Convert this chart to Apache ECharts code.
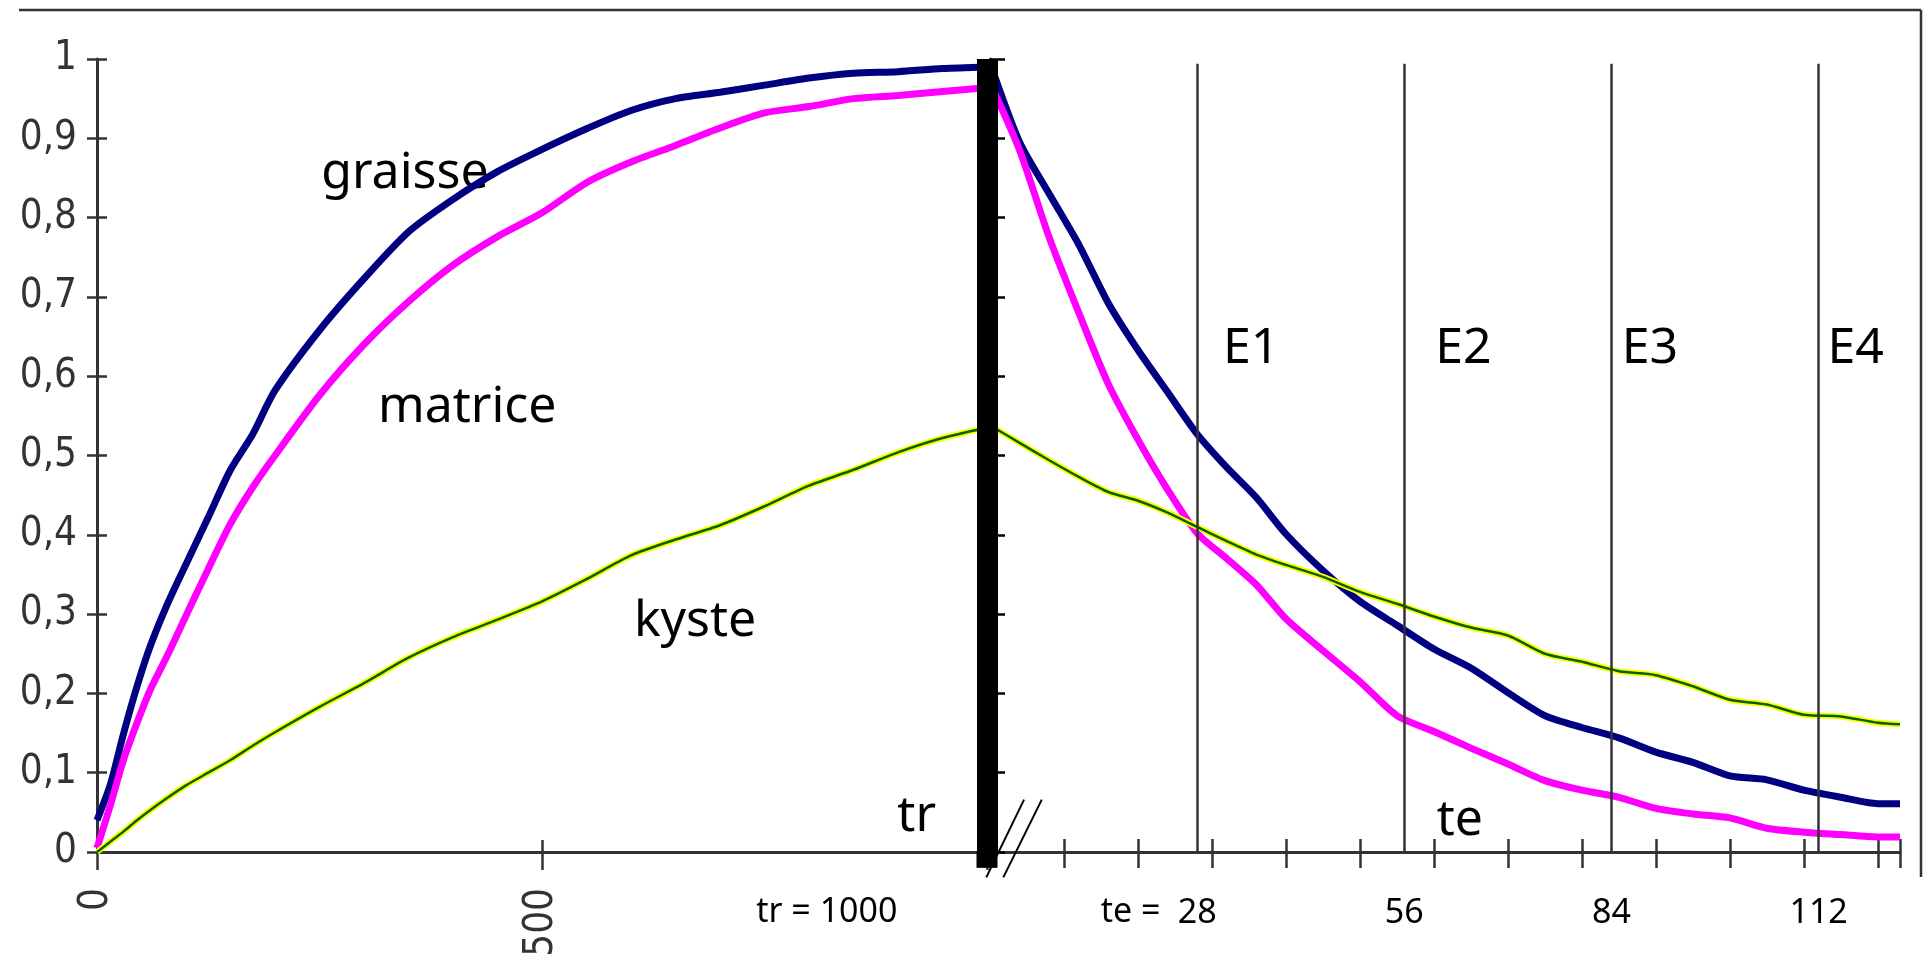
<!DOCTYPE html>
<html>
<head>
<meta charset="utf-8">
<script src="https://cdn.jsdelivr.net/npm/echarts@6/dist/echarts.min.js"></script>
<style>
    html, body { margin: 0; padding: 0; background: #fff; }
    #chart { width: 1927px; height: 965px; }
</style>
</head>
<body>
<div id="chart"></div>
<script>
// recovery phase (tr, ms)
const trTimes     = [0, 15, 30, 45, 60, 80, 100, 125, 150, 175, 200, 250, 300, 350, 400, 450, 500, 550, 600, 650, 700, 750, 800, 850, 900, 950, 1000];
const graisseRise = [0.04, 0.085, 0.15, 0.209, 0.26, 0.315, 0.363, 0.422, 0.482, 0.527, 0.582, 0.658, 0.723, 0.782, 0.823, 0.858, 0.886, 0.912, 0.935, 0.95, 0.958, 0.967, 0.976, 0.982, 0.984, 0.988, 0.99];
const matriceRise = [0.005, 0.059, 0.117, 0.163, 0.205, 0.25, 0.298, 0.357, 0.414, 0.46, 0.5, 0.576, 0.64, 0.694, 0.74, 0.776, 0.806, 0.844, 0.87, 0.891, 0.913, 0.932, 0.94, 0.95, 0.954, 0.959, 0.964];
const kysteRise   = [0, 0.013, 0.026, 0.04, 0.053, 0.069, 0.084, 0.1, 0.116, 0.134, 0.151, 0.183, 0.213, 0.245, 0.271, 0.293, 0.316, 0.344, 0.374, 0.394, 0.412, 0.436, 0.462, 0.482, 0.504, 0.522, 0.535];

// echo phase (te, ms)
const teTimes      = [0, 4, 8, 12, 16, 20, 24, 28, 32, 36, 40, 45, 50, 55, 60, 65, 70, 75, 80, 85, 90, 95, 100, 105, 110, 115, 120, 123];
const graisseDecay = [0.995, 0.895, 0.83, 0.766, 0.692, 0.633, 0.58, 0.527, 0.485, 0.447, 0.401, 0.355, 0.316, 0.286, 0.256, 0.232, 0.201, 0.172, 0.157, 0.144, 0.126, 0.113, 0.096, 0.091, 0.078, 0.069, 0.061, 0.061];
const matriceDecay = [0.97, 0.885, 0.775, 0.68, 0.59, 0.52, 0.457, 0.402, 0.37, 0.337, 0.294, 0.254, 0.215, 0.172, 0.152, 0.131, 0.111, 0.09, 0.078, 0.069, 0.055, 0.048, 0.043, 0.03, 0.025, 0.022, 0.019, 0.019];
const kysteDecay   = [0.538, 0.516, 0.494, 0.473, 0.454, 0.443, 0.428, 0.41, 0.392, 0.375, 0.362, 0.347, 0.328, 0.313, 0.297, 0.283, 0.273, 0.25, 0.24, 0.228, 0.223, 0.209, 0.192, 0.186, 0.173, 0.171, 0.163, 0.161];

// tick labels / markers
const trLabels = [0, 500];
const teLabels = [28, 56, 84, 112];
const echoLines = [28, 56, 84, 112];
const echoNames = ['E1', 'E2', 'E3', 'E4'];
const trValue = 1000;

const pairs = (xs, ys) => xs.map((x, i) => [x, ys[i]]);

const pixFont = "'Liberation Sans Narrow', 'DejaVu Sans Condensed', sans-serif";
const handFont = "'Noto Sans', sans-serif";
const axisColor = '#333';

const axisBase = {
    type: 'value',
    splitLine: {show: false},
    axisLine: {show: true, lineStyle: {color: axisColor, width: 3}},
    axisTick: {show: true, lineStyle: {color: axisColor, width: 2.5}}
};
// second copy of an axis, only to draw the inner half of crossing ticks
const innerTicks = (base, pos, len) => Object.assign({}, base, {
    position: pos,
    axisLine: {show: false},
    axisLabel: {show: false},
    axisTick: {show: true, inside: true, length: len, lineStyle: {color: axisColor, width: 2.5}}
});

const xTr = Object.assign({}, axisBase, {
    gridIndex: 0, position: 'bottom', min: 0, max: 1000, interval: 500,
    axisTick: {show: true, length: 18, lineStyle: {color: axisColor, width: 2.5}},
    axisLabel: {customValues: trLabels, rotate: 90, margin: 36, fontSize: 40, fontFamily: pixFont, color: axisColor}
});
const xTe = Object.assign({}, axisBase, {
    gridIndex: 1, position: 'bottom', min: 0, max: 123, interval: 10,
    axisTick: {show: true, length: 16, lineStyle: {color: axisColor, width: 2.5}},
    axisLabel: {customValues: teLabels, margin: 44, fontSize: 34, fontFamily: handFont, color: '#000'}
});
const yTr = Object.assign({}, axisBase, {
    gridIndex: 0, position: 'left', min: 0, max: 1, interval: 0.1,
    axisTick: {show: true, length: 10, lineStyle: {color: axisColor, width: 2.5}},
    axisLabel: {
        margin: 20, fontSize: 40, fontFamily: pixFont, color: axisColor,
        formatter: v => (v === 0 || v === 1) ? String(v) : v.toFixed(1).replace('.', ',')
    }
});
const yTe = Object.assign({}, axisBase, {
    gridIndex: 1, position: 'left', min: 0, max: 1, interval: 0.1,
    axisTick: {show: true, inside: true, length: 15, lineStyle: {color: '#000', width: 2.5}},
    axisLabel: {show: false}
});

const line = (name, x, y, xi, color, width) => ({
    name: name, type: 'line', xAxisIndex: xi, yAxisIndex: xi,
    data: pairs(x, y), showSymbol: false, symbol: 'none',
    smooth: 0.25,
    lineStyle: {color: color, width: width}, silent: true
});

const series = [
    line('graisse', trTimes, graisseRise, 0, '#000080', 7),
    line('matrice', trTimes, matriceRise, 0, '#ff00ff', 7),
    line('kyste-halo', trTimes, kysteRise, 0, '#ffff00', 6),
    line('kyste', trTimes, kysteRise, 0, '#006400', 2.5),
    line('graisse', teTimes, graisseDecay, 1, '#000080', 7),
    line('matrice', teTimes, matriceDecay, 1, '#ff00ff', 7),
    line('kyste-halo', teTimes, kysteDecay, 1, '#ffff00', 6),
    line('kyste', teTimes, kysteDecay, 1, '#006400', 2.5)
];

// echo time lines E1..E4
series[4].markLine = {
    silent: true, symbol: 'none', label: {show: false},
    lineStyle: {color: axisColor, width: 2.5, type: 'solid'},
    data: echoLines.map(t => [{coord: [t, 0]}, {coord: [t, 0.994]}])
};
// thick bar at the end of recovery, drawn over the curves
series[3].markLine = {
    silent: true, symbol: 'none', label: {show: false},
    lineStyle: {color: '#000', width: 21, type: 'solid', cap: 'butt'},
    data: [[{coord: [trValue, 0]}, {coord: [trValue, 1]}]]
};

const option = {
    animation: false,
    backgroundColor: '#fff',
    grid: [
        {left: 97, top: 59, width: 890, height: 793},
        {left: 990, top: 59, width: 910, height: 793}
    ],
    xAxis: [xTr, xTe, innerTicks(xTr, 'bottom', 12), innerTicks(xTe, 'bottom', 13)],
    yAxis: [yTr, yTe, innerTicks(yTr, 'left', 10)],
    series: series
};

const chart = echarts.init(document.getElementById('chart'));
chart.setOption(option);

// text annotations, placed in data coordinates
const annotations = [
    {grid: 0, at: [346, 0.855], text: 'graisse', size: 50},
    {grid: 0, at: [416, 0.56], text: 'matrice', size: 50},
    {grid: 0, at: [672, 0.29], text: 'kyste', size: 50},
    {grid: 0, at: [921, 0.044], text: 'tr', size: 50},
    {grid: 1, at: [63.5, 0.04], text: 'te', size: 50},
    {grid: 0, at: [820, -0.076], text: 'tr = 1000', size: 34},
    {grid: 1, at: [19, -0.076], text: 'te =', size: 34}
];
const echoLabelAt = [35.3, 64, 89.2, 117];
echoNames.forEach((n, i) => annotations.push({grid: 1, at: [echoLabelAt[i], 0.634], text: n, size: 50}));

const graphics = annotations.map(a => {
    const p = chart.convertToPixel({gridIndex: a.grid}, a.at);
    return {
        type: 'text', x: p[0], y: p[1], silent: true,
        style: {
            text: a.text, fontSize: a.size, fontFamily: handFont, fill: '#000',
            align: 'center', verticalAlign: 'middle', textAlign: 'center', textVerticalAlign: 'middle'
        }
    };
});

// foot of the bar, just below the axis
const barTop = chart.convertToPixel({gridIndex: 0}, [trValue, 0]);
const barFoot = chart.convertToPixel({gridIndex: 0}, [trValue, -0.02]);
graphics.push({type: 'rect', silent: true, z: 10, shape: {x: barTop[0] - 10.5, y: barTop[1] - 1, width: 21, height: barFoot[1] - barTop[1] + 1}, style: {fill: '#000'}});

// axis break marks "//"
[[[-0.5, -0.032], [4.6, 0.066]], [[1.8, -0.032], [7.0, 0.066]]].forEach(seg => {
    const a = chart.convertToPixel({gridIndex: 1}, seg[0]);
    const b = chart.convertToPixel({gridIndex: 1}, seg[1]);
    graphics.push({type: 'line', silent: true, z: 11, shape: {x1: a[0], y1: a[1], x2: b[0], y2: b[1]}, style: {stroke: '#000', lineWidth: 2}});
});

// frame: top and right edges
graphics.push({type: 'line', silent: true, shape: {x1: 19, y1: 10, x2: 1921, y2: 10}, style: {stroke: axisColor, lineWidth: 2.5}});
graphics.push({type: 'line', silent: true, shape: {x1: 1921, y1: 10, x2: 1921, y2: 877}, style: {stroke: axisColor, lineWidth: 2.5}});

chart.setOption({graphic: {elements: graphics}});
</script>
</body>
</html>
